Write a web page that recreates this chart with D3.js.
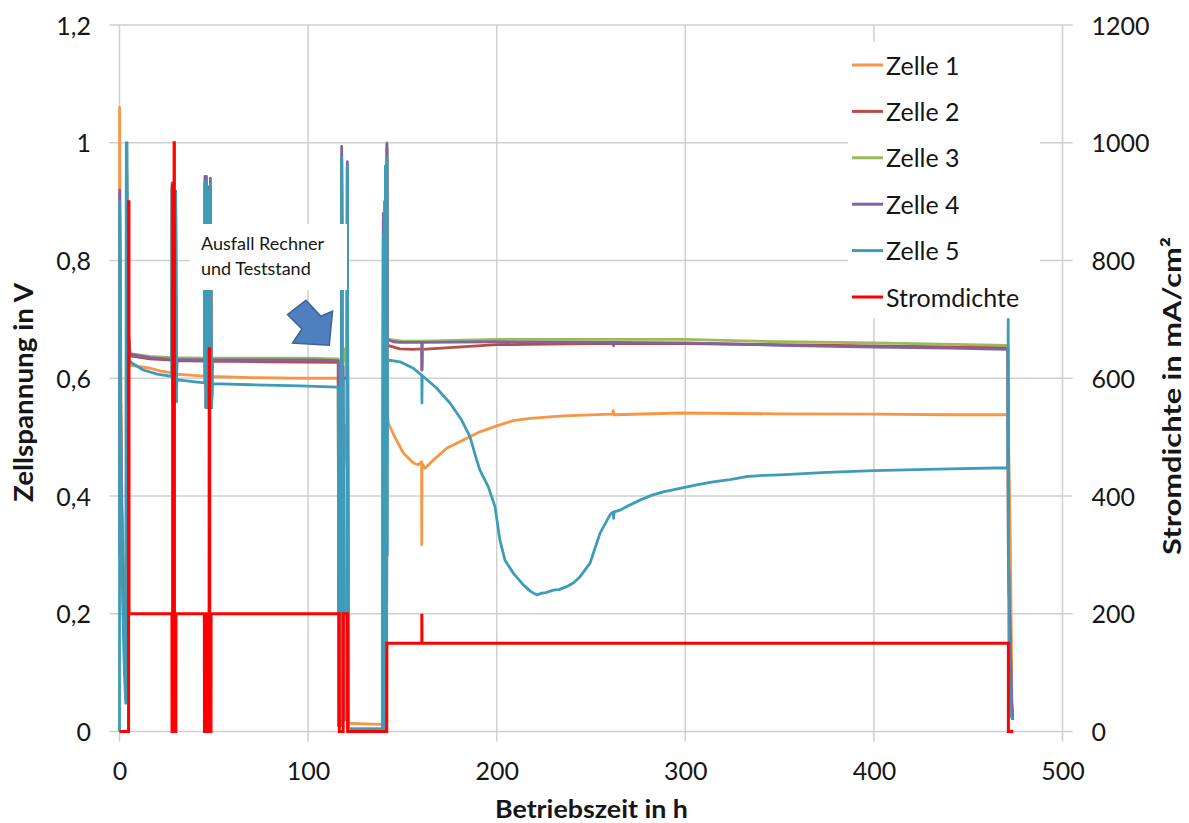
<!DOCTYPE html>
<html><head><meta charset="utf-8">
<script src="https://cdn.jsdelivr.net/npm/d3@7"></script>
<style>body{margin:0;background:#fff}svg{display:block;font-family:Lato,'Open Sans',sans-serif}</style>
</head><body><svg id="chart" width="1189" height="823"></svg>
<script>
// ---------- data ----------
const xTicks = [0, 100, 200, 300, 400, 500];
const yLeftTicks = [0, 0.2, 0.4, 0.6, 0.8, 1, 1.2];
const yLeftLabels = ["0", "0,2", "0,4", "0,6", "0,8", "1", "1,2"];
const yRightTicks = [0, 200, 400, 600, 800, 1000, 1200];
const yRightLabels = ["0", "200", "400", "600", "800", "1000", "1200"];
const seriesNames = ["Zelle 1", "Zelle 2", "Zelle 3", "Zelle 4", "Zelle 5", "Stromdichte"];

// [Betriebszeit h, Zellspannung V]
const zelle1 = [[0,0.35],[0.05,1.06],[0.4,0.8],[1,0.45],[2,0.28],[3,0.2],[3.6,0.17],[3.8,0.95],[4.2,0.7],[5.6,0.622],[10,0.62],[16.2,0.617],[22,0.612],[27.8,0.609],[27.9,0.925],[28.2,0.56],[28.5,0.608],[29.7,0.607],[29.75,0.91],[30.1,0.58],[30.4,0.607],[42.7,0.604],[45.2,0.603],[45.3,0.93],[45.9,0.55],[46.1,0.93],[46.7,0.55],[46.9,0.92],[47.5,0.55],[48.2,0.93],[48.8,0.55],[49.2,0.603],[69.2,0.601],[95.7,0.6],[115.5,0.6],[116,0.6],[116.2,0.03],[117.6,0.03],[117.8,0.97],[118.4,0.5],[119.5,0.52],[120.6,0.45],[120.8,0.955],[121.3,0.014],[130,0.013],[139.5,0.012],[139.9,0.86],[140.2,0.01],[141.6,0.012],[141.8,0.97],[142.2,0.54],[142.5,0.524],[146,0.5],[150.5,0.473],[155.8,0.456],[158.4,0.453],[160.2,0.458],[160.25,0.317],[160.4,0.455],[162,0.447],[166.4,0.461],[173.5,0.481],[184.1,0.498],[191.1,0.509],[200,0.519],[208.8,0.528],[217.7,0.532],[235.3,0.536],[261.5,0.539],[261.8,0.545],[262.2,0.538],[297.2,0.541],[350,0.5395],[400,0.539],[440,0.538],[471,0.538],[471.3,0.52],[472.4,0.31],[473.2,0.05],[473.6,0.02]];
const zelle2 = [[0,0.3],[0.1,0.88],[0.5,0.6],[1,0.4],[2,0.25],[3,0.16],[3.6,0.12],[3.8,0.95],[4.2,0.7],[5.6,0.638],[16,0.633],[27.8,0.631],[27.9,0.92],[28.2,0.57],[28.5,0.63],[29.7,0.63],[29.75,0.91],[30.1,0.58],[30.4,0.63],[45.2,0.629],[45.3,0.93],[45.9,0.55],[46.1,0.93],[46.7,0.55],[46.9,0.92],[47.5,0.55],[48.2,0.93],[48.8,0.55],[49.2,0.629],[80,0.628],[116,0.627],[116.2,0.01],[117.6,0.01],[117.8,0.975],[118.4,0.6],[120.6,0.6],[120.8,0.96],[121.3,0.004],[139.5,0.004],[139.9,0.87],[140.2,0.004],[141.6,0.004],[141.8,0.99],[142.2,0.656],[148.7,0.65],[155.8,0.649],[160.3,0.65],[160.35,0.614],[160.5,0.649],[175,0.652],[200,0.657],[250,0.659],[300,0.659],[350,0.657],[400,0.655],[471,0.652],[471.3,0.3],[473,0.05],[473.6,0.02]];
const zelle3 = [[0,0.3],[0.1,0.85],[0.5,0.6],[1,0.4],[2,0.25],[3,0.16],[3.6,0.12],[3.8,0.95],[4.2,0.7],[5.6,0.642],[16,0.637],[27.8,0.635],[27.9,0.92],[28.2,0.57],[28.5,0.635],[29.7,0.635],[29.75,0.91],[30.1,0.58],[30.4,0.635],[45.2,0.634],[45.3,0.93],[45.9,0.55],[46.1,0.93],[46.7,0.55],[46.9,0.925],[47.5,0.55],[48.2,0.93],[48.8,0.55],[49.2,0.634],[80,0.634],[100,0.634],[116,0.633],[116.2,0.01],[117.6,0.01],[117.8,0.98],[118.4,0.62],[119.5,0.65],[120.6,0.62],[120.8,0.96],[121.3,0.004],[139.5,0.004],[139.9,0.87],[140.2,0.004],[141.6,0.004],[141.8,1.0],[142.1,0.666],[150,0.663],[160.3,0.663],[160.35,0.62],[160.5,0.663],[200,0.666],[250,0.666],[300,0.666],[350,0.662],[400,0.66],[471,0.656],[471.3,0.3],[473,0.05],[473.6,0.02]];
const zelle4 = [[0,0.3],[0.1,0.92],[0.5,0.6],[1,0.4],[2,0.22],[3,0.12],[3.6,0.09],[3.8,0.96],[4.2,0.7],[5.6,0.641],[16,0.635],[27.8,0.632],[27.9,0.932],[28.3,0.56],[28.6,0.632],[29.7,0.632],[29.75,0.918],[30.1,0.56],[30.4,0.632],[45.2,0.631],[45.3,0.943],[45.9,0.55],[46.1,0.943],[46.7,0.55],[46.9,0.925],[47.5,0.55],[48.2,0.94],[48.8,0.55],[49.2,0.631],[80,0.631],[100,0.631],[116,0.63],[116.2,0.01],[117.6,0.01],[117.8,0.994],[118.3,0.02],[118.6,0.62],[119.2,0.02],[120.6,0.02],[120.8,0.968],[121.3,0.004],[139.5,0.004],[139.9,0.88],[140.2,0.004],[140.8,0.004],[141,0.96],[141.3,0.004],[141.6,0.004],[141.8,0.998],[142.1,0.666],[145,0.662],[148.7,0.661],[160.3,0.661],[160.35,0.614],[160.5,0.661],[200,0.662],[261.8,0.661],[262,0.655],[262.3,0.661],[300,0.66],[350,0.656],[400,0.653],[440,0.651],[471,0.649],[471.3,0.3],[473,0.05],[473.6,0.02]];
const zelle5 = [[0,0],[0.1,0.9],[0.5,0.55],[1,0.35],[1.8,0.2],[2.6,0.1],[3.3,0.048],[3.6,1.0],[4.0,1.0],[4.3,0.66],[5,0.63],[6.5,0.626],[12.6,0.614],[20,0.607],[27.7,0.603],[27.9,0.928],[28.3,0.56],[28.6,0.6],[29.7,0.6],[29.75,0.915],[30.1,0.56],[30.4,0.597],[32.1,0.597],[40,0.594],[45.2,0.592],[45.3,0.934],[45.9,0.55],[46.1,0.934],[46.7,0.55],[46.9,0.92],[47.5,0.55],[47.7,0.92],[48.0,0.55],[48.2,0.93],[48.8,0.55],[49.2,0.591],[69.2,0.589],[95.7,0.587],[115.5,0.585],[116,0.584],[116.2,0.01],[117.6,0.01],[117.8,0.975],[118.3,0.02],[118.6,0.6],[119.2,0.02],[120.6,0.02],[120.8,0.96],[121.3,0.004],[139.5,0.004],[139.9,0.844],[140.2,0.004],[140.4,0.004],[140.5,0.9],[140.7,0.004],[140.8,0.004],[141,0.96],[141.3,0.004],[141.6,0.004],[141.8,0.975],[142.0,0.3],[142.1,0.631],[148.7,0.628],[155.8,0.617],[160.3,0.605],[160.35,0.558],[160.5,0.604],[161.1,0.603],[168.2,0.583],[175.2,0.558],[181.4,0.529],[185.8,0.501],[189.4,0.461],[191.1,0.444],[195.5,0.416],[199.1,0.382],[201.7,0.325],[204.4,0.291],[208.8,0.269],[214.1,0.249],[218,0.238],[221.2,0.232],[224,0.235],[226,0.236],[230,0.24],[233,0.241],[237.1,0.246],[241,0.253],[244.2,0.263],[249.5,0.286],[254.8,0.337],[260.1,0.368],[261.8,0.373],[262,0.362],[262.3,0.373],[265.4,0.376],[270,0.384],[276,0.393],[282,0.401],[288.3,0.407],[297.2,0.413],[306,0.419],[314.8,0.424],[323.7,0.428],[332.5,0.433],[341.4,0.435],[350.2,0.436],[375,0.44],[400,0.443],[440,0.446],[471,0.448],[471.2,0.7],[471.6,0.1],[472.5,0.03],[473.5,0.02]];
// [Betriebszeit h, Stromdichte mA/cm²]
const stromdichte = [[0,0],[4.8,0],[4.85,900],[5.0,900],[5.05,200],[27.8,200],[27.85,0],[28.15,0],[28.2,930],[28.3,0],[28.9,0],[28.95,1000],[29.1,1000],[29.15,0],[29.9,0],[29.95,200],[45,200],[45.05,0],[45.6,0],[45.65,200],[46,200],[46.05,0],[46.6,0],[46.65,200],[47,200],[47.05,0],[47.5,0],[47.55,650],[47.8,650],[47.85,0],[48.5,0],[48.55,200],[116.5,200],[116.55,0],[118.6,0],[118.65,200],[120.9,200],[120.95,0],[141.7,0],[141.75,150],[160.3,150],[160.3,200],[160.4,150],[471.3,150],[471.3,0],[473.9,0]];

const cellSeries = [zelle1, zelle2, zelle3, zelle4, zelle5];
const annotationLines = ["Ausfall Rechner", "und Teststand"];
const arrowTip = [111.2, 0.656];

// ---------- style ----------
const colors = ["#F79646", "#B84C49", "#9BBB59", "#8064A2", "#3E9CB8", "#FF0000"];
const gridColor = "#cfcfcf";
const textColor = "#161616";

const svg = d3.select("#chart");
svg.append("rect").attr("width", 1189).attr("height", 823).attr("fill", "#fff");

const x = d3.scaleLinear().domain([0, 500]).range([119.5, 1062.5]);
const yL = d3.scaleLinear().domain([0, 1.2]).range([731.5, 25]);
const yR = d3.scaleLinear().domain([0, 1200]).range([731.5, 25]);

// gridlines + outward ticks
const grid = svg.append("g");
grid.selectAll("line.h").data(yLeftTicks).join("line")
  .attr("x1", x(0) - 10).attr("x2", x(500) + 10)
  .attr("y1", d => yL(d)).attr("y2", d => yL(d))
  .attr("stroke", gridColor).attr("stroke-width", 1.5);
grid.selectAll("line.v").data(xTicks).join("line")
  .attr("x1", d => x(d)).attr("x2", d => x(d))
  .attr("y1", yL(1.2)).attr("y2", yL(0) + 10)
  .attr("stroke", gridColor).attr("stroke-width", 1.5);

// axes (labels only)
const gl = svg.append("g").attr("transform", `translate(${x(0)},0)`)
  .call(d3.axisLeft(yL).tickValues(yLeftTicks).tickFormat((d, i) => yLeftLabels[i]).tickSize(0).tickPadding(28.5));
const gr = svg.append("g").attr("transform", `translate(${x(500)},0)`)
  .call(d3.axisRight(yR).tickValues(yRightTicks).tickFormat((d, i) => yRightLabels[i]).tickSize(0).tickPadding(29));
const gb = svg.append("g").attr("transform", `translate(0,${yL(0)})`)
  .call(d3.axisBottom(x).tickValues(xTicks).tickFormat(d3.format("d")).tickSize(0));
[gl, gr, gb].forEach(g => {
  g.select(".domain").remove();
  g.selectAll("text").attr("font-family", "Lato, sans-serif").attr("font-size", 25).attr("fill", textColor);
});
gl.selectAll("text").attr("dy", "0.36em");
gr.selectAll("text").attr("dy", "0.36em");
gb.selectAll("text").attr("dy", null).attr("y", 48.5);

// axis titles
svg.append("text").text("Betriebszeit in h")
  .attr("x", 591.5).attr("y", 818).attr("text-anchor", "middle")
  .attr("font-weight", "bold").attr("font-size", 25).attr("fill", textColor)
  .attr("textLength", 193).attr("lengthAdjust", "spacingAndGlyphs");
svg.append("text").text("Zellspannung in V")
  .attr("transform", "translate(33,392.5) rotate(-90)").attr("text-anchor", "middle")
  .attr("font-weight", "bold").attr("font-size", 26).attr("fill", textColor)
  .attr("textLength", 219).attr("lengthAdjust", "spacingAndGlyphs");
svg.append("text").text("Stromdichte in mA/cm²")
  .attr("transform", "translate(1181,396) rotate(-90)").attr("text-anchor", "middle")
  .attr("font-weight", "bold").attr("font-size", 25).attr("fill", textColor)
  .attr("textLength", 318).attr("lengthAdjust", "spacingAndGlyphs");

// clip
svg.append("clipPath").attr("id", "plot").append("rect")
  .attr("x", x(0) - 2).attr("y", yL(1.2)).attr("width", x(500) - x(0) + 4).attr("height", yL(0) - yL(1.2) + 2);

const plot = svg.append("g").attr("clip-path", "url(#plot)");
const lineL = d3.line().x(d => x(d[0])).y(d => yL(d[1]));
const lineR = d3.line().x(d => x(d[0])).y(d => yR(d[1]));

cellSeries.forEach((s, i) => {
  plot.append("path").datum(s).attr("d", lineL)
    .attr("fill", "none").attr("stroke", colors[i]).attr("stroke-width", 2.8)
    .attr("stroke-linejoin", "round");
});
plot.append("path").datum(stromdichte).attr("d", lineR)
  .attr("fill", "none").attr("stroke", colors[5]).attr("stroke-width", 3)
  .attr("stroke-linejoin", "miter");

// annotation box
const ann = svg.append("g");
ann.append("rect").attr("x", 190).attr("y", 224).attr("width", 157).attr("height", 66).attr("fill", "#fff");
annotationLines.forEach((t, i) => {
  ann.append("text").text(t).attr("x", 201).attr("y", 250 + i * 25)
    .attr("font-size", 18).attr("fill", textColor);
});
// arrow
const tx = x(arrowTip[0]), ty = yL(arrowTip[1]);
const arrowShape = [[-23.3,-45],[-8.3,-29],[3.3,-34],[0,0],[-36.7,-2.3],[-27.3,-16.3],[-41.7,-30.7]];
ann.append("polygon")
  .attr("points", arrowShape.map(p => [tx + p[0], ty + p[1]].join(",")).join(" "))
  .attr("fill", "#4F7FBF").attr("stroke", "#3A6499").attr("stroke-width", 1.5).attr("stroke-linejoin", "miter");

// legend
const leg = svg.append("g");
leg.append("rect").attr("x", 848).attr("y", 42).attr("width", 192).attr("height", 276).attr("fill", "#fff");
seriesNames.forEach((n, i) => {
  const cy = 65 + i * 46.4;
  leg.append("line").attr("x1", 852).attr("x2", 883).attr("y1", cy).attr("y2", cy)
    .attr("stroke", colors[i]).attr("stroke-width", 3);
  leg.append("text").text(n).attr("x", 886).attr("y", cy + 9.5)
    .attr("font-size", 25).attr("fill", textColor);
});
</script></body></html>
